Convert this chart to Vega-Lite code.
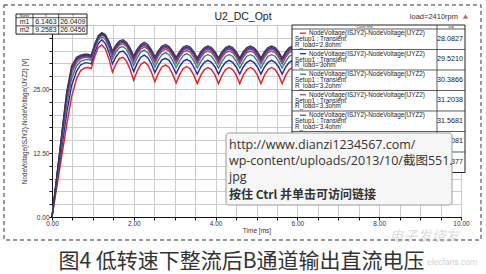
{
"$schema": "https://vega.github.io/schema/vega-lite/v6.json",
"width": 409, "height": 192,
"autosize": {"type": "none"},
"padding": {"left": 52, "top": 25, "right": 25, "bottom": 57},
"background": "white",
"config": {"view": {"stroke": "#1a1a1a", "strokeWidth": 1}, "font": "Liberation Sans"},
"data": {"values": [{}]},
"datasets": {
"curves": [
{"t":0,"a":0,"b":0,"c":0,"d":0,"e":0,"f":0,"g":0},
{"t":0.12,"a":6.0,"b":6.8,"c":7.3,"d":7.7,"e":7.9,"f":8.1,"g":8.2},
{"t":0.24,"a":12.0,"b":13.6,"c":14.6,"d":15.3,"e":15.8,"f":16.1,"g":16.4},
{"t":0.36,"a":18.0,"b":20.3,"c":21.9,"d":22.9,"e":23.6,"f":24.1,"g":24.5},
{"t":0.48,"a":23.5,"b":25.7,"c":27.1,"d":28.1,"e":28.7,"f":29.1,"g":29.5},
{"t":0.6,"a":27.0,"b":28.5,"c":29.5,"d":30.2,"e":30.6,"f":30.9,"g":31.2},
{"t":0.7,"a":28.6,"b":29.7,"c":30.4,"d":30.9,"e":31.2,"f":31.4,"g":31.6},
{"t":0.8,"a":29.1,"b":30.1,"c":30.7,"d":31.2,"e":31.4,"f":31.6,"g":31.8},
{"t":0.88,"a":29.2,"b":30.1,"c":30.8,"d":31.2,"e":31.4,"f":31.6,"g":31.8},
{"t":0.9593,"a":29.0,"b":29.9,"c":30.6,"d":31.0,"e":31.2,"f":31.4,"g":31.6},
{"t":1.0458,"a":31.4,"b":32.2,"c":32.9,"d":33.2,"e":33.4,"f":33.6,"g":33.8},
{"t":1.1322,"a":33.1,"b":33.9,"c":34.6,"d":34.9,"e":35.0,"f":35.2,"g":35.4},
{"t":1.2187,"a":33.6,"b":34.6,"c":35.2,"d":35.6,"e":35.7,"f":35.8,"g":36.0},
{"t":1.3051,"a":32.8,"b":33.9,"c":34.7,"d":35.1,"e":35.2,"f":35.4,"g":35.6},
{"t":1.3916,"a":30.9,"b":32.2,"c":33.1,"d":33.6,"e":33.8,"f":34.1,"g":34.3},
{"t":1.478,"a":28.3,"b":29.9,"c":30.9,"d":31.5,"e":31.9,"f":32.2,"g":32.4},
{"t":1.5645,"a":29.9,"b":31.3,"c":32.2,"d":32.8,"e":33.1,"f":33.3,"g":33.6},
{"t":1.6509,"a":31.0,"b":32.2,"c":33.1,"d":33.6,"e":33.9,"f":34.1,"g":34.4},
{"t":1.7374,"a":31.2,"b":32.4,"c":33.3,"d":33.8,"e":34.1,"f":34.3,"g":34.6},
{"t":1.8238,"a":30.4,"b":31.7,"c":32.7,"d":33.3,"e":33.6,"f":33.8,"g":34.1},
{"t":1.9103,"a":28.8,"b":30.3,"c":31.3,"d":32.0,"e":32.4,"f":32.7,"g":33.0},
{"t":1.9967,"a":26.7,"b":28.4,"c":29.6,"d":30.3,"e":30.8,"f":31.2,"g":31.5},
{"t":2.0832,"a":28.5,"b":30.0,"c":31.1,"d":31.8,"e":32.2,"f":32.5,"g":32.8},
{"t":2.1696,"a":29.8,"b":31.2,"c":32.2,"d":32.8,"e":33.2,"f":33.4,"g":33.7},
{"t":2.2561,"a":30.3,"b":31.6,"c":32.6,"d":33.2,"e":33.5,"f":33.8,"g":34.1},
{"t":2.3425,"a":29.7,"b":31.1,"c":32.1,"d":32.8,"e":33.1,"f":33.4,"g":33.7},
{"t":2.429,"a":28.3,"b":29.9,"c":30.9,"d":31.6,"e":32.0,"f":32.4,"g":32.7},
{"t":2.5154,"a":26.4,"b":28.2,"c":29.3,"d":30.1,"e":30.6,"f":31.0,"g":31.3},
{"t":2.6019,"a":28.1,"b":29.6,"c":30.7,"d":31.5,"e":31.9,"f":32.2,"g":32.5},
{"t":2.6883,"a":29.3,"b":30.7,"c":31.7,"d":32.4,"e":32.8,"f":33.1,"g":33.4},
{"t":2.7748,"a":29.7,"b":31.0,"c":32.1,"d":32.8,"e":33.1,"f":33.4,"g":33.7},
{"t":2.8612,"a":29.2,"b":30.6,"c":31.7,"d":32.4,"e":32.8,"f":33.1,"g":33.3},
{"t":2.9477,"a":27.9,"b":29.5,"c":30.6,"d":31.4,"e":31.8,"f":32.1,"g":32.4},
{"t":3.0341,"a":26.2,"b":28.0,"c":29.2,"d":30.0,"e":30.5,"f":30.9,"g":31.2},
{"t":3.1206,"a":27.8,"b":29.4,"c":30.5,"d":31.3,"e":31.7,"f":32.0,"g":32.3},
{"t":3.207,"a":29.0,"b":30.4,"c":31.5,"d":32.2,"e":32.6,"f":32.9,"g":33.2},
{"t":3.2935,"a":29.4,"b":30.8,"c":31.9,"d":32.5,"e":32.9,"f":33.2,"g":33.5},
{"t":3.3799,"a":28.9,"b":30.4,"c":31.5,"d":32.2,"e":32.6,"f":32.9,"g":33.2},
{"t":3.4664,"a":27.7,"b":29.3,"c":30.5,"d":31.2,"e":31.7,"f":32.0,"g":32.3},
{"t":3.5528,"a":26.05,"b":27.9,"c":29.1,"d":29.9,"e":30.4,"f":30.8,"g":31.1},
{"t":3.6393,"a":27.7,"b":29.3,"c":30.4,"d":31.2,"e":31.6,"f":32.0,"g":32.3},
{"t":3.7257,"a":28.8,"b":30.2,"c":31.4,"d":32.1,"e":32.5,"f":32.8,"g":33.1},
{"t":3.8122,"a":29.2,"b":30.6,"c":31.7,"d":32.4,"e":32.8,"f":33.1,"g":33.4},
{"t":3.8986,"a":28.8,"b":30.2,"c":31.4,"d":32.1,"e":32.5,"f":32.8,"g":33.1},
{"t":3.9851,"a":27.7,"b":29.3,"c":30.4,"d":31.2,"e":31.6,"f":32.0,"g":32.3},
{"t":4.0715,"a":26.05,"b":27.9,"c":29.1,"d":29.9,"e":30.4,"f":30.8,"g":31.1},
{"t":4.158,"a":27.7,"b":29.3,"c":30.4,"d":31.2,"e":31.6,"f":32.0,"g":32.3},
{"t":4.2444,"a":28.8,"b":30.2,"c":31.4,"d":32.1,"e":32.5,"f":32.8,"g":33.1},
{"t":4.3309,"a":29.2,"b":30.6,"c":31.7,"d":32.4,"e":32.8,"f":33.1,"g":33.4},
{"t":4.4173,"a":28.8,"b":30.2,"c":31.4,"d":32.1,"e":32.5,"f":32.8,"g":33.1},
{"t":4.5038,"a":27.7,"b":29.3,"c":30.4,"d":31.2,"e":31.6,"f":32.0,"g":32.3},
{"t":4.5902,"a":26.05,"b":27.9,"c":29.1,"d":29.9,"e":30.4,"f":30.8,"g":31.1},
{"t":4.6767,"a":27.7,"b":29.3,"c":30.4,"d":31.2,"e":31.6,"f":32.0,"g":32.3},
{"t":4.7631,"a":28.8,"b":30.2,"c":31.4,"d":32.1,"e":32.5,"f":32.8,"g":33.1},
{"t":4.8496,"a":29.2,"b":30.6,"c":31.7,"d":32.4,"e":32.8,"f":33.1,"g":33.4},
{"t":4.936,"a":28.8,"b":30.2,"c":31.4,"d":32.1,"e":32.5,"f":32.8,"g":33.1},
{"t":5.0225,"a":27.7,"b":29.3,"c":30.4,"d":31.2,"e":31.6,"f":32.0,"g":32.3},
{"t":5.1089,"a":26.05,"b":27.9,"c":29.1,"d":29.9,"e":30.4,"f":30.8,"g":31.1},
{"t":5.1954,"a":27.7,"b":29.3,"c":30.4,"d":31.2,"e":31.6,"f":32.0,"g":32.3},
{"t":5.2818,"a":28.8,"b":30.2,"c":31.4,"d":32.1,"e":32.5,"f":32.8,"g":33.1},
{"t":5.3683,"a":29.2,"b":30.6,"c":31.7,"d":32.4,"e":32.8,"f":33.1,"g":33.4},
{"t":5.4547,"a":28.8,"b":30.2,"c":31.4,"d":32.1,"e":32.5,"f":32.8,"g":33.1},
{"t":5.5412,"a":27.7,"b":29.3,"c":30.4,"d":31.2,"e":31.6,"f":32.0,"g":32.3},
{"t":5.6276,"a":26.05,"b":27.9,"c":29.1,"d":29.9,"e":30.4,"f":30.8,"g":31.1},
{"t":5.7141,"a":27.7,"b":29.3,"c":30.4,"d":31.2,"e":31.6,"f":32.0,"g":32.3},
{"t":5.8005,"a":28.8,"b":30.2,"c":31.4,"d":32.1,"e":32.5,"f":32.8,"g":33.1},
{"t":5.887,"a":29.2,"b":30.6,"c":31.7,"d":32.4,"e":32.8,"f":33.1,"g":33.4},
{"t":5.9734,"a":28.8,"b":30.2,"c":31.4,"d":32.1,"e":32.5,"f":32.8,"g":33.1},
{"t":6.0599,"a":27.7,"b":29.3,"c":30.4,"d":31.2,"e":31.6,"f":32.0,"g":32.3},
{"t":6.1463,"a":26.04,"b":27.9,"c":29.1,"d":29.9,"e":30.4,"f":30.8,"g":31.1},
{"t":6.2328,"a":27.7,"b":29.3,"c":30.4,"d":31.2,"e":31.6,"f":32.0,"g":32.3},
{"t":6.3192,"a":28.8,"b":30.2,"c":31.4,"d":32.1,"e":32.5,"f":32.8,"g":33.1},
{"t":6.4057,"a":29.2,"b":30.6,"c":31.7,"d":32.4,"e":32.8,"f":33.1,"g":33.4},
{"t":6.4921,"a":28.8,"b":30.2,"c":31.4,"d":32.1,"e":32.5,"f":32.8,"g":33.1},
{"t":6.5786,"a":27.7,"b":29.3,"c":30.4,"d":31.2,"e":31.6,"f":32.0,"g":32.3},
{"t":6.665,"a":26.05,"b":27.9,"c":29.1,"d":29.9,"e":30.4,"f":30.8,"g":31.1},
{"t":6.7515,"a":27.7,"b":29.3,"c":30.4,"d":31.2,"e":31.6,"f":32.0,"g":32.3},
{"t":6.8379,"a":28.8,"b":30.2,"c":31.4,"d":32.1,"e":32.5,"f":32.8,"g":33.1},
{"t":6.9244,"a":29.2,"b":30.6,"c":31.7,"d":32.4,"e":32.8,"f":33.1,"g":33.4},
{"t":7.0108,"a":28.8,"b":30.2,"c":31.4,"d":32.1,"e":32.5,"f":32.8,"g":33.1},
{"t":7.0973,"a":27.7,"b":29.3,"c":30.4,"d":31.2,"e":31.6,"f":32.0,"g":32.3},
{"t":7.1837,"a":26.05,"b":27.9,"c":29.1,"d":29.9,"e":30.4,"f":30.8,"g":31.1},
{"t":7.2702,"a":27.7,"b":29.3,"c":30.4,"d":31.2,"e":31.6,"f":32.0,"g":32.3},
{"t":7.3566,"a":28.8,"b":30.2,"c":31.4,"d":32.1,"e":32.5,"f":32.8,"g":33.1},
{"t":7.4431,"a":29.2,"b":30.6,"c":31.7,"d":32.4,"e":32.8,"f":33.1,"g":33.4},
{"t":7.5295,"a":28.8,"b":30.2,"c":31.4,"d":32.1,"e":32.5,"f":32.8,"g":33.1},
{"t":7.616,"a":27.7,"b":29.3,"c":30.4,"d":31.2,"e":31.6,"f":32.0,"g":32.3},
{"t":7.7024,"a":26.05,"b":27.9,"c":29.1,"d":29.9,"e":30.4,"f":30.8,"g":31.1},
{"t":7.7889,"a":27.7,"b":29.3,"c":30.4,"d":31.2,"e":31.6,"f":32.0,"g":32.3},
{"t":7.8753,"a":28.8,"b":30.2,"c":31.4,"d":32.1,"e":32.5,"f":32.8,"g":33.1},
{"t":7.9618,"a":29.2,"b":30.6,"c":31.7,"d":32.4,"e":32.8,"f":33.1,"g":33.4},
{"t":8.0482,"a":28.8,"b":30.2,"c":31.4,"d":32.1,"e":32.5,"f":32.8,"g":33.1},
{"t":8.1347,"a":27.7,"b":29.3,"c":30.4,"d":31.2,"e":31.6,"f":32.0,"g":32.3},
{"t":8.2211,"a":26.05,"b":27.9,"c":29.1,"d":29.9,"e":30.4,"f":30.8,"g":31.1},
{"t":8.3076,"a":27.7,"b":29.3,"c":30.4,"d":31.2,"e":31.6,"f":32.0,"g":32.3},
{"t":8.394,"a":28.8,"b":30.2,"c":31.4,"d":32.1,"e":32.5,"f":32.8,"g":33.1},
{"t":8.4805,"a":29.2,"b":30.6,"c":31.7,"d":32.4,"e":32.8,"f":33.1,"g":33.4},
{"t":8.5669,"a":28.8,"b":30.2,"c":31.4,"d":32.1,"e":32.5,"f":32.8,"g":33.1},
{"t":8.6534,"a":27.7,"b":29.3,"c":30.4,"d":31.2,"e":31.6,"f":32.0,"g":32.3},
{"t":8.7398,"a":26.05,"b":27.9,"c":29.1,"d":29.9,"e":30.4,"f":30.8,"g":31.1},
{"t":8.8263,"a":27.7,"b":29.3,"c":30.4,"d":31.2,"e":31.6,"f":32.0,"g":32.3},
{"t":8.9127,"a":28.8,"b":30.2,"c":31.4,"d":32.1,"e":32.5,"f":32.8,"g":33.1},
{"t":8.9992,"a":29.2,"b":30.6,"c":31.7,"d":32.4,"e":32.8,"f":33.1,"g":33.4},
{"t":9.0856,"a":28.8,"b":30.2,"c":31.4,"d":32.1,"e":32.5,"f":32.8,"g":33.1},
{"t":9.1721,"a":27.7,"b":29.3,"c":30.4,"d":31.2,"e":31.6,"f":32.0,"g":32.3},
{"t":9.2585,"a":26.05,"b":27.9,"c":29.1,"d":29.9,"e":30.4,"f":30.8,"g":31.1},
{"t":9.345,"a":27.7,"b":29.3,"c":30.4,"d":31.2,"e":31.6,"f":32.0,"g":32.3},
{"t":9.4314,"a":28.8,"b":30.2,"c":31.4,"d":32.1,"e":32.5,"f":32.8,"g":33.1},
{"t":9.5179,"a":29.2,"b":30.6,"c":31.7,"d":32.4,"e":32.8,"f":33.1,"g":33.4},
{"t":9.6043,"a":28.8,"b":30.2,"c":31.4,"d":32.1,"e":32.5,"f":32.8,"g":33.1},
{"t":9.6908,"a":27.7,"b":29.3,"c":30.4,"d":31.2,"e":31.6,"f":32.0,"g":32.3},
{"t":9.7772,"a":26.05,"b":27.9,"c":29.1,"d":29.9,"e":30.4,"f":30.8,"g":31.1},
{"t":9.8637,"a":27.7,"b":29.3,"c":30.4,"d":31.2,"e":31.6,"f":32.0,"g":32.3},
{"t":9.9501,"a":28.8,"b":30.2,"c":31.4,"d":32.1,"e":32.5,"f":32.8,"g":33.1},
{"t":10.0,"a":29.1,"b":30.5,"c":31.6,"d":32.3,"e":32.7,"f":33.0,"g":33.3}
],
"legend": [
{"row":1,"s":"a","name":"R_load='2.8ohm'","avg":"28.0827"},
{"row":2,"s":"b","name":"R_load='3ohm'","avg":"29.5210"},
{"row":3,"s":"c","name":"R_load='3.2ohm'","avg":"30.3866"},
{"row":4,"s":"d","name":"R_load='3.3ohm'","avg":"31.2038"},
{"row":5,"s":"e","name":"R_load='3.4ohm'","avg":"31.5681"},
{"row":6,"s":"f","name":"R_load='3.5ohm'","avg":"31.9081"},
{"row":7,"s":"g","name":"R_load='3.6ohm'","avg":"32.2377"}
],
"markers": [
{"row":1,"name":"m1","x":"6.1463","y":"26.0409"},
{"row":2,"name":"m2","x":"9.2583","y":"26.0456"}
]
},
"resolve": {"scale": {"x": "independent", "y": "independent"}},
"layer": [
{"data": {"name": "curves"},
"transform": [{"fold": ["a","b","c","d","e","f","g"], "as": ["s","v"]}],
"mark": {"type": "line", "strokeWidth": 1.4, "interpolate": "linear"},
"encoding": {
"x": {"field": "t", "type": "quantitative", "scale": {"domain": [0,10], "nice": false},
"axis": {"values": [0,0.5,1,1.5,2,2.5,3,3.5,4,4.5,5,5.5,6,6.5,7,7.5,8,8.5,9,9.5,10],
"labelExpr": "datum.value % 2 === 0 ? format(datum.value, '.2f') : ''",
"labelFlush": false, "labelOverlap": false, "grid": true, "gridColor": "#cdcdcd", "gridWidth": 1,
"domainColor": "#111", "tickColor": "#111", "tickSize": 3, "labelFont": "Liberation Sans", "labelFontSize": 6.5,
"labelColor": "#333", "labelPadding": 0, "title": "Time [ms]", "titleFont": "Liberation Sans", "titleFontSize": 6.5,
"titleFontWeight": "normal", "titleColor": "#333", "titlePadding": 1}},
"y": {"field": "v", "type": "quantitative", "scale": {"domain": [0,37.5], "nice": false, "zero": false},
"axis": {"values": [0,2.5,5,7.5,10,12.5,15,17.5,20,22.5,25,27.5,30,32.5,35,37.5],
"labelExpr": "datum.value % 12.5 === 0 && datum.value < 30 ? format(datum.value, '.2f') : ''",
"labelOverlap": false, "grid": true, "gridColor": "#cdcdcd", "gridWidth": 1,
"domainColor": "#111", "tickColor": "#111", "tickSize": 3, "labelFont": "Liberation Sans", "labelFontSize": 6.5,
"labelColor": "#333", "labelPadding": 0, "title": "NodeVoltage(ISJY2)-NodeVoltage(IJYZ2) [V]", "titleFont": "Liberation Sans", "titleFontSize": 6.3,
"titleFontWeight": "normal", "titleColor": "#333", "titlePadding": 5}},
"color": {"field": "s", "type": "nominal", "scale": {"domain": ["a","b","c","d","e","f","g"], "range": ["#e41f26","#1f24c8","#2d8a68","#bf3a6e","#6b3fa0","#3b2f85","#3d3d4a"]}, "legend": null}
}},
{"mark": {"type": "rect", "fillOpacity": 0, "stroke": "#333", "strokeWidth": 1, "strokeDash": [4,3]},
"encoding": {"x": {"datum": -1.174, "type": "quantitative", "scale": {"domain": [0,10], "nice": false}, "axis": null}, "x2": {"datum": 10.489},
"y": {"datum": 41.41, "type": "quantitative", "scale": {"domain": [0,37.5], "nice": false, "zero": false}, "axis": null}, "y2": {"datum": -4.49}}},
{"mark": {"type": "text", "text": "U2_DC_Opt", "font": "Liberation Sans", "fontSize": 10.5, "color": "#222", "align": "center", "baseline": "middle"},
"encoding": {"x": {"datum": 4.67, "type": "quantitative", "scale": {"domain": [0,10], "nice": false}, "axis": null},
"y": {"datum": 39.06, "type": "quantitative", "scale": {"domain": [0,37.5], "nice": false, "zero": false}, "axis": null}}},
{"mark": {"type": "text", "text": "load=2410rpm", "font": "Liberation Sans", "fontSize": 7.5, "color": "#333", "align": "right", "baseline": "middle"},
"encoding": {"x": {"datum": 9.927, "type": "quantitative", "scale": {"domain": [0,10], "nice": false}, "axis": null},
"y": {"datum": 39.1, "type": "quantitative", "scale": {"domain": [0,37.5], "nice": false, "zero": false}, "axis": null}}},
{"mark": {"type": "point", "shape": "triangle-up", "size": 30, "filled": true, "color": "#b86c6c", "opacity": 1},
"encoding": {"x": {"datum": 10.11, "type": "quantitative", "scale": {"domain": [0,10], "nice": false}, "axis": null},
"y": {"datum": 39.16, "type": "quantitative", "scale": {"domain": [0,37.5], "nice": false, "zero": false}, "axis": null}}},
{"mark": {"type": "text", "text": "图4  低转速下整流后B通道输出直流电压", "font": "Noto Sans CJK SC", "fontSize": 21, "color": "#333", "align": "center", "baseline": "middle"},
"encoding": {"x": {"datum": 4.633, "type": "quantitative", "scale": {"domain": [0,10], "nice": false}, "axis": null},
"y": {"datum": -8.79, "type": "quantitative", "scale": {"domain": [0,37.5], "nice": false, "zero": false}, "axis": null}}},
{"mark": {"type": "text", "text": "电子发烧友", "font": "Noto Sans CJK SC", "fontSize": 14, "fontStyle": "italic", "color": "#c8c8c8", "opacity": 0.6, "align": "center", "baseline": "middle"},
"encoding": {"x": {"datum": 9.1, "type": "quantitative", "scale": {"domain": [0,10], "nice": false}, "axis": null},
"y": {"datum": -3.9, "type": "quantitative", "scale": {"domain": [0,37.5], "nice": false, "zero": false}, "axis": null}}},
{"mark": {"type": "text", "text": "elecfans.com", "font": "Liberation Sans", "fontSize": 8.5, "color": "#c0c0c0", "opacity": 0.7, "align": "center", "baseline": "middle"},
"encoding": {"x": {"datum": 9.78, "type": "quantitative", "scale": {"domain": [0,10], "nice": false}, "axis": null},
"y": {"datum": -8.79, "type": "quantitative", "scale": {"domain": [0,37.5], "nice": false, "zero": false}, "axis": null}}},
{"mark": {"type": "rect", "fill": "white", "stroke": "#222", "strokeWidth": 1},
"encoding": {"x": {"datum": 5.868, "type": "quantitative", "scale": {"domain": [0,10], "nice": false}, "axis": null}, "x2": {"datum": 10.098},
"y": {"datum": 0.805, "type": "quantitative", "scale": {"domain": [0.805,10.171], "reverse": true, "nice": false, "zero": false}, "axis": null}, "y2": {"datum": 8}}},
{"data": {"name": "legend"},
"mark": {"type": "rule", "stroke": "#333", "strokeWidth": 0.8},
"encoding": {"x": {"datum": 5.868, "type": "quantitative", "scale": {"domain": [0,10], "nice": false}, "axis": null}, "x2": {"datum": 10.098},
"y": {"field": "row", "type": "quantitative", "scale": {"domain": [0.805,10.171], "reverse": true, "nice": false, "zero": false}, "axis": null}}},
{"mark": {"type": "rule", "stroke": "#333", "strokeWidth": 0.8},
"encoding": {"x": {"datum": 9.413, "type": "quantitative", "scale": {"domain": [0,10], "nice": false}, "axis": null},
"y": {"datum": 0.805, "type": "quantitative", "scale": {"domain": [0.805,10.171], "reverse": true, "nice": false, "zero": false}, "axis": null}, "y2": {"datum": 8}}},
{"mark": {"type": "text", "text": "Curve Info", "fontSize": 3.5, "color": "#333", "align": "center", "baseline": "middle"},
"encoding": {"x": {"datum": 7.641, "type": "quantitative", "scale": {"domain": [0,10], "nice": false}, "axis": null},
"y": {"datum": 0.903, "type": "quantitative", "scale": {"domain": [0.805,10.171], "reverse": true, "nice": false, "zero": false}, "axis": null}}},
{"mark": {"type": "text", "text": "avg", "fontSize": 3.5, "color": "#333", "align": "center", "baseline": "middle"},
"encoding": {"x": {"datum": 9.756, "type": "quantitative", "scale": {"domain": [0,10], "nice": false}, "axis": null},
"y": {"datum": 0.903, "type": "quantitative", "scale": {"domain": [0.805,10.171], "reverse": true, "nice": false, "zero": false}, "axis": null}}},
{"data": {"name": "legend"},
"transform": [{"filter": "datum.row <= 5"}],
"mark": {"type": "rule", "strokeWidth": 1.3, "yOffset": 4.2},
"encoding": {"x": {"datum": 6.064, "type": "quantitative", "scale": {"domain": [0,10], "nice": false}, "axis": null}, "x2": {"datum": 6.21},
"y": {"field": "row", "type": "quantitative", "scale": {"domain": [0.805,10.171], "reverse": true, "nice": false, "zero": false}, "axis": null},
"color": {"field": "s", "type": "nominal", "legend": null}}},
{"data": {"name": "legend"},
"transform": [{"filter": "datum.row <= 5"}],
"mark": {"type": "text", "text": "NodeVoltage(ISJY2)-NodeVoltage(IJYZ2)", "font": "Liberation Sans", "fontSize": 6.3, "color": "#222", "align": "left", "baseline": "middle", "dy": 4.2},
"encoding": {"x": {"datum": 6.284, "type": "quantitative", "scale": {"domain": [0,10], "nice": false}, "axis": null},
"y": {"field": "row", "type": "quantitative", "scale": {"domain": [0.805,10.171], "reverse": true, "nice": false, "zero": false}, "axis": null}}},
{"data": {"name": "legend"},
"transform": [{"filter": "datum.row <= 5"}],
"mark": {"type": "text", "text": "Setup1 : Transient", "font": "Liberation Sans", "fontSize": 6.3, "color": "#222", "align": "left", "baseline": "middle", "dy": 10.1},
"encoding": {"x": {"datum": 5.941, "type": "quantitative", "scale": {"domain": [0,10], "nice": false}, "axis": null},
"y": {"field": "row", "type": "quantitative", "scale": {"domain": [0.805,10.171], "reverse": true, "nice": false, "zero": false}, "axis": null}}},
{"data": {"name": "legend"},
"transform": [{"filter": "datum.row <= 5"}],
"mark": {"type": "text", "font": "Liberation Sans", "fontSize": 6.3, "color": "#222", "align": "left", "baseline": "middle", "dy": 16.0},
"encoding": {"x": {"datum": 5.941, "type": "quantitative", "scale": {"domain": [0,10], "nice": false}, "axis": null},
"y": {"field": "row", "type": "quantitative", "scale": {"domain": [0.805,10.171], "reverse": true, "nice": false, "zero": false}, "axis": null},
"text": {"field": "name"}}},
{"data": {"name": "legend"},
"mark": {"type": "text", "font": "Liberation Sans", "fontSize": 7.2, "color": "#222", "align": "right", "baseline": "middle", "dy": 10},
"encoding": {"x": {"datum": 10.049, "type": "quantitative", "scale": {"domain": [0,10], "nice": false}, "axis": null},
"y": {"field": "row", "type": "quantitative", "scale": {"domain": [0.805,10.171], "reverse": true, "nice": false, "zero": false}, "axis": null},
"text": {"field": "avg"}}},
{"mark": {"type": "rect", "fill": "#f6f6f6", "stroke": "#9c9c9c", "strokeWidth": 1, "cornerRadius": 3},
"encoding": {"x": {"datum": 4.254, "type": "quantitative", "scale": {"domain": [0,10], "nice": false}, "axis": null}, "x2": {"datum": 9.78},
"y": {"datum": 16.41, "type": "quantitative", "scale": {"domain": [0,37.5], "nice": false, "zero": false}, "axis": null}, "y2": {"datum": 2.34}}},
{"mark": {"type": "text", "text": "http://www.dianzi1234567.com/\nwp-content/uploads/2013/10/截图551.\njpg", "lineBreak": "\n", "lineHeight": 16, "font": "Open Sans, Noto Sans CJK SC", "fontSize": 12.5, "color": "#333", "align": "left", "baseline": "middle"},
"encoding": {"x": {"datum": 4.328, "type": "quantitative", "scale": {"domain": [0,10], "nice": false}, "axis": null},
"y": {"datum": 14.06, "type": "quantitative", "scale": {"domain": [0,37.5], "nice": false, "zero": false}, "axis": null}}},
{"mark": {"type": "text", "text": "按住 Ctrl 并单击可访问链接", "font": "Noto Sans CJK SC", "fontWeight": "bold", "fontSize": 12, "color": "#333", "align": "left", "baseline": "middle"},
"encoding": {"x": {"datum": 4.328, "type": "quantitative", "scale": {"domain": [0,10], "nice": false}, "axis": null},
"y": {"datum": 4.33, "type": "quantitative", "scale": {"domain": [0,37.5], "nice": false, "zero": false}, "axis": null}}},
{"mark": {"type": "rect", "fill": "white", "stroke": "#222", "strokeWidth": 1},
"encoding": {"x": {"datum": -0.88, "type": "quantitative", "scale": {"domain": [0,10], "nice": false}, "axis": null}, "x2": {"datum": 0.856},
"y": {"datum": 0.549, "type": "quantitative", "scale": {"domain": [1.89,25.305], "reverse": true, "nice": false, "zero": false}, "axis": null}, "y2": {"datum": 3}}},
{"data": {"name": "markers"},
"mark": {"type": "rule", "stroke": "#222", "strokeWidth": 0.8},
"encoding": {"x": {"datum": -0.88, "type": "quantitative", "scale": {"domain": [0,10], "nice": false}, "axis": null}, "x2": {"datum": 0.856},
"y": {"field": "row", "type": "quantitative", "scale": {"domain": [1.89,25.305], "reverse": true, "nice": false, "zero": false}, "axis": null}}},
{"data": {"values": [{"c": -0.465}, {"c": 0.164}]},
"mark": {"type": "rule", "stroke": "#222", "strokeWidth": 0.8},
"encoding": {"x": {"field": "c", "type": "quantitative", "scale": {"domain": [0,10], "nice": false}, "axis": null},
"y": {"datum": 0.549, "type": "quantitative", "scale": {"domain": [1.89,25.305], "reverse": true, "nice": false, "zero": false}, "axis": null}, "y2": {"datum": 3}}},
{"data": {"values": [{"h": "Name", "c": -0.672}, {"h": "X", "c": -0.15}, {"h": "Y", "c": 0.51}]},
"mark": {"type": "text", "fontSize": 3.5, "color": "#333", "align": "center", "baseline": "middle"},
"encoding": {"x": {"field": "c", "type": "quantitative", "scale": {"domain": [0,10], "nice": false}, "axis": null},
"y": {"datum": 0.774, "type": "quantitative", "scale": {"domain": [1.89,25.305], "reverse": true, "nice": false, "zero": false}, "axis": null},
"text": {"field": "h"}}},
{"data": {"name": "markers"},
"mark": {"type": "text", "fontSize": 7, "color": "#222", "align": "center", "baseline": "middle", "dy": 4.1},
"encoding": {"x": {"datum": -0.672, "type": "quantitative", "scale": {"domain": [0,10], "nice": false}, "axis": null},
"y": {"field": "row", "type": "quantitative", "scale": {"domain": [1.89,25.305], "reverse": true, "nice": false, "zero": false}, "axis": null},
"text": {"field": "name"}}},
{"data": {"name": "markers"},
"mark": {"type": "text", "fontSize": 7, "color": "#222", "align": "center", "baseline": "middle", "dy": 4.1},
"encoding": {"x": {"datum": -0.15, "type": "quantitative", "scale": {"domain": [0,10], "nice": false}, "axis": null},
"y": {"field": "row", "type": "quantitative", "scale": {"domain": [1.89,25.305], "reverse": true, "nice": false, "zero": false}, "axis": null},
"text": {"field": "x"}}},
{"data": {"name": "markers"},
"mark": {"type": "text", "fontSize": 7, "color": "#222", "align": "center", "baseline": "middle", "dy": 4.1},
"encoding": {"x": {"datum": 0.51, "type": "quantitative", "scale": {"domain": [0,10], "nice": false}, "axis": null},
"y": {"field": "row", "type": "quantitative", "scale": {"domain": [1.89,25.305], "reverse": true, "nice": false, "zero": false}, "axis": null},
"text": {"field": "y"}}}
]
}
